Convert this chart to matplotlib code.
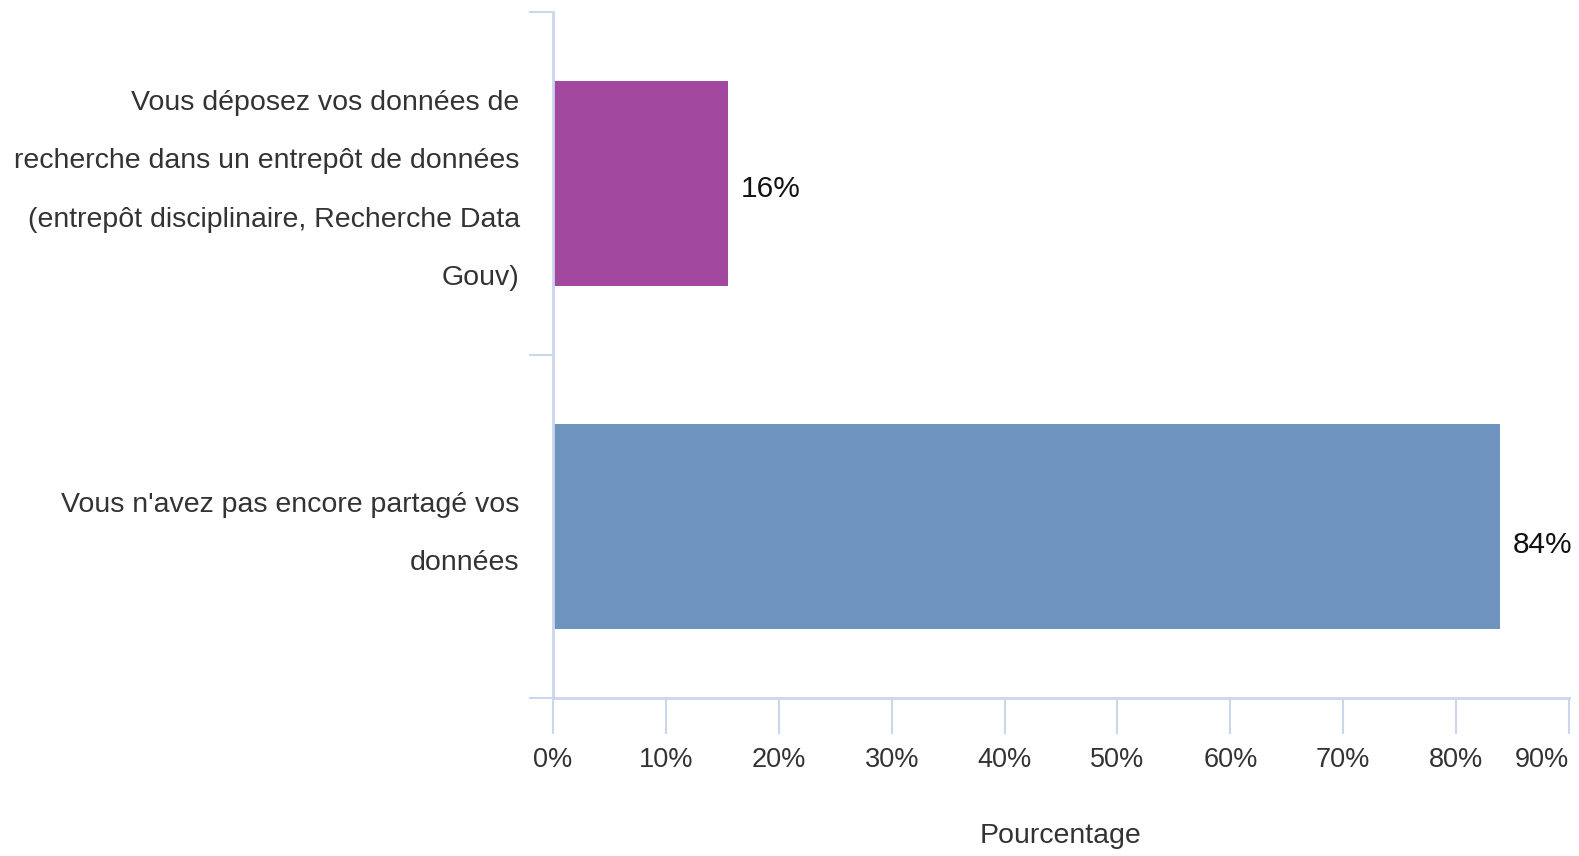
import matplotlib
matplotlib.use("Agg")
import matplotlib.pyplot as plt
from matplotlib.ticker import FixedLocator
from matplotlib.transforms import ScaledTranslation

plt.rcParams['font.family'] = ['Liberation Sans', 'DejaVu Sans']

# data
categories = [
    "Vous déposez vos données de\nrecherche dans un entrepôt de données\n(entrepôt disciplinaire, Recherche Data\nGouv)",
    "Vous n'avez pas encore partagé vos\ndonnées",
]
values = [15.5, 83.9]
labels = ["16%", "84%"]
colors = ["#A2489F", "#6F93BF"]
xticks = list(range(0, 100, 10))

axis_col = "#ccd6eb"
text_col = "#333333"
label_dy = [-4, -13]  # the value labels sit a bit low in the original

fig = plt.figure(figsize=(15.79, 8.56), dpi=100)
ax = fig.add_axes([553 / 1579, 1 - 698 / 856, (1569 - 553) / 1579, (698 - 12) / 856])

ypos = list(range(len(categories)))
bars = ax.barh(ypos, values, height=0.595, color=colors)
for y, v, lab, dy in zip(ypos, values, labels, label_dy):
    ax.annotate(lab, (v, y), xytext=(9, dy), textcoords="offset points",
                va="center", ha="left", fontsize=21.5, color="#111111")

ax.set_xlim(0, 90)
ax.set_ylim(1.5, -0.5)

ax.set_xticks(xticks)
ax.set_xticklabels([f"{t}%" for t in xticks])
ax.tick_params(axis="x", length=26, width=1.5, color=axis_col, labelsize=19.5,
               labelcolor=text_col, pad=9)
# last label is pulled inside the figure, like the original
ax.get_xticklabels()[-1].set_horizontalalignment("right")

ax.set_yticks(ypos)
ax.set_yticklabels(categories, fontsize=20.5, color=text_col, linespacing=2.62)
ax.yaxis.set_minor_locator(FixedLocator([-0.5, 0.5, 1.5]))
ax.tick_params(axis="y", which="major", length=0, pad=24)
ax.tick_params(axis="y", which="minor", length=17, width=1.5, color=axis_col)
# nudge the category labels up a little
shift = ScaledTranslation(0, 0.12, fig.dpi_scale_trans)
for t in ax.get_yticklabels():
    t.set_transform(t.get_transform() + shift)

ax.set_xlabel("Pourcentage", fontsize=20.5, color=text_col, labelpad=36)

for side in ("top", "right"):
    ax.spines[side].set_visible(False)
for side in ("left", "bottom"):
    ax.spines[side].set_color(axis_col)
    ax.spines[side].set_linewidth(2)

fig.savefig("out.png", dpi=100, facecolor="white")
